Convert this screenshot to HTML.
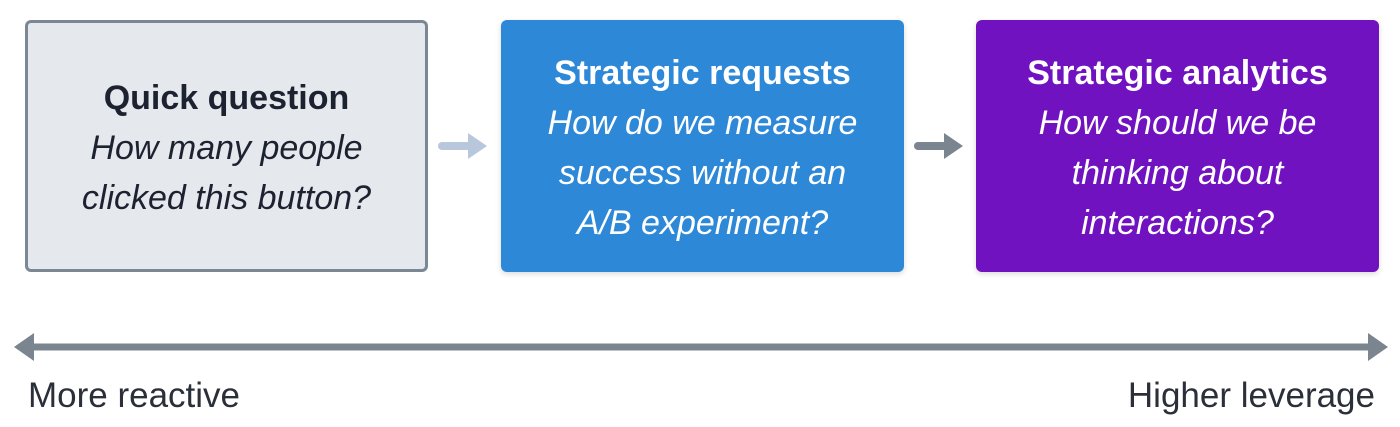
<!DOCTYPE html>
<html><head><meta charset="utf-8"><style>
body{margin:0;width:1400px;height:427px;background:#fff;position:relative;overflow:hidden;font-family:"Liberation Sans",sans-serif}
.box{position:absolute;top:20px;width:403px;height:252px;border-radius:6px;box-sizing:border-box;display:flex;flex-direction:column;justify-content:center;align-items:center;text-align:center;font-size:34px;line-height:50px}
.box b{font-weight:bold;font-style:normal;font-size:34px}
.box i{display:block;font-size:34px}
.lbl{position:absolute;top:376px;font-size:35px;color:#2a2f3a}
</style></head><body>
<div class="box" style="left:25px;background:#e5e8ed;border:3px solid #7c8795;color:#1c2230;padding-top:4px"><b>Quick question</b><i>How many people<br>clicked this button?</i></div>
<div class="box" style="left:501px;background:#2e88d8;color:#fff;box-shadow:0 2px 6px rgba(0,0,0,0.15);padding-top:4px"><b>Strategic requests</b><i>How do we measure<br>success without an<br>A/B experiment?</i></div>
<div class="box" style="left:976px;background:#7012c0;color:#fff;box-shadow:0 2px 6px rgba(0,0,0,0.15);padding-top:4px"><b>Strategic analytics</b><i>How should we be<br>thinking about<br>interactions?</i></div>
<svg width="1400" height="427" style="position:absolute;left:0;top:0">
<g fill="#b9c7dc" stroke="#b9c7dc"><line x1="442" y1="146" x2="472" y2="146" stroke-width="8" stroke-linecap="round"/><polygon points="468,133 487,146 468,159" stroke="none"/></g>
<g fill="#7b8590" stroke="#7b8590"><line x1="918" y1="146" x2="948" y2="146" stroke-width="8" stroke-linecap="round"/><polygon points="944,133 963,146 944,159" stroke="none"/></g>
<g fill="#7b8590" stroke="#7b8590"><line x1="28" y1="347" x2="1374" y2="347" stroke-width="7"/><polygon points="14,347 34,333 34,361" stroke="none"/><polygon points="1388,347 1368,333 1368,361" stroke="none"/></g>
</svg>
<div class="lbl" style="left:28px">More reactive</div>
<div class="lbl" style="right:25px">Higher leverage</div>
</body></html>
